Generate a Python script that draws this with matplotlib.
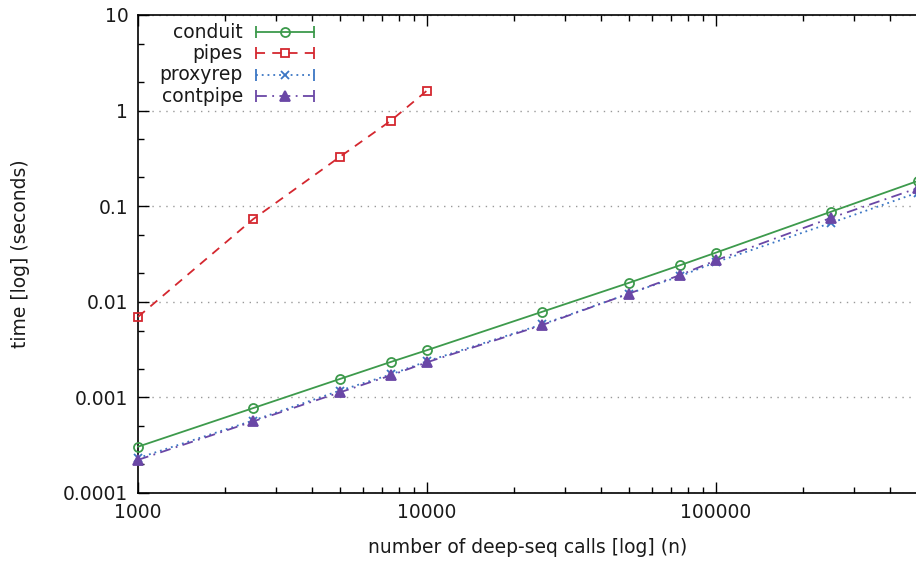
import matplotlib
matplotlib.use('Agg')
import matplotlib.pyplot as plt
import matplotlib.ticker as ticker
import numpy as np

plt.rcParams['font.family'] = 'DejaVu Sans'
plt.rcParams['font.size'] = 13.5

# deep-seq calls (n)
calls = [1000, 2500, 5000, 7500, 10000, 25000, 50000, 75000, 100000, 250000, 500000]
calls_pipes = [1000, 2500, 5000, 7500, 10000]

# times in seconds
conduit = [0.000305, 0.000772, 0.00156, 0.00235, 0.00312, 0.00785, 0.0158, 0.0241, 0.0327, 0.0875, 0.184]
pipes = [0.00695, 0.073, 0.329, 0.785, 1.62]
proxyrep = [0.000232, 0.000573, 0.00118, 0.00174, 0.00239, 0.0058, 0.0122, 0.0185, 0.026, 0.0668, 0.139]
contpipe = [0.000222, 0.00056, 0.00113, 0.0017, 0.00233, 0.0057, 0.0122, 0.019, 0.0272, 0.0755, 0.155]

series = [
    ('conduit', calls, conduit, '#3d9a4c', '-', 'o', 'none', 6.5),
    ('pipes', calls_pipes, pipes, '#d4272f', (0, (5, 4)), 's', 'none', 6),
    ('proxyrep', calls, proxyrep, '#3b76c4', (0, (1, 2.2)), 'x', None, 5.5),
    ('contpipe', calls, contpipe, '#6a47a6', (0, (6, 3, 1, 3)), '^', None, 6.5),
]

fig = plt.figure(figsize=(9.16, 5.65), dpi=100)
ax = fig.add_axes([138/916, 72/565, 780/916, 478/565])
ax.set_xscale('log')
ax.set_yscale('log')
ax.set_xlim(1000, 500000)
ax.set_ylim(0.0001, 10)

for name, xs, ys, col, ls, mk, mfc, ms in series:
    ax.plot(xs, ys, color=col, linestyle=ls, linewidth=1.3, marker=mk,
            markersize=ms, markerfacecolor=mfc if mfc else col,
            markeredgecolor=col, markeredgewidth=1.3, clip_on=False, zorder=3)

# gnuplot-like ticks
ax.yaxis.set_major_locator(ticker.LogLocator(base=10, numticks=10))
ax.yaxis.set_minor_locator(ticker.LogLocator(base=10, subs=[2, 5], numticks=10))
ax.xaxis.set_major_locator(ticker.LogLocator(base=10, numticks=10))
ax.xaxis.set_minor_locator(ticker.LogLocator(base=10, subs=np.arange(2, 10), numticks=10))
ax.yaxis.set_major_formatter(ticker.FuncFormatter(lambda v, p: ('%g' % v) if v >= 0.001 else '0.0001'))
ax.xaxis.set_major_formatter(ticker.FuncFormatter(lambda v, p: '%d' % v))
ax.yaxis.set_minor_formatter(ticker.NullFormatter())
ax.xaxis.set_minor_formatter(ticker.NullFormatter())
ax.tick_params(which='both', direction='in', top=True, right=False, labelsize=13.5, pad=7,
               labelcolor='#1a1a1a')
ax.tick_params(which='major', length=8, width=1)
ax.tick_params(which='minor', length=4, width=1)
for s in ax.spines.values():
    s.set_linewidth(1.2)

ax.yaxis.grid(True, which='major', linestyle=(0, (1, 4)), color='#999999', linewidth=1)
ax.set_axisbelow(True)

ax.set_xlabel('number of deep-seq calls [log] (n)', fontsize=13.5, labelpad=12, color='#1a1a1a')
ax.set_ylabel('time [log] (seconds)', fontsize=13.5, labelpad=24, color='#1a1a1a')

# legend drawn like gnuplot key (label, then errorline sample)
rows = [0.9644, 0.9205, 0.8745, 0.8305]
x0, x1 = 0.1513, 0.2256
for (name, xs, ys, col, ls, mk, mfc, ms), yy in zip(series, rows):
    ax.text(0.1346, yy, name, transform=ax.transAxes, ha='right', va='center',
            fontsize=13.5, color='#1a1a1a')
    ax.plot([x0, x1], [yy, yy], transform=ax.transAxes, color=col, linestyle=ls, linewidth=1.3)
    ax.plot([x0, x1], [yy, yy], transform=ax.transAxes, color=col, linestyle='none',
            marker='|', markersize=8, markeredgewidth=1.3)
    ax.plot([(x0 + x1) / 2], [yy], transform=ax.transAxes, color=col, linestyle='none',
            marker=mk, markersize=ms, markerfacecolor=mfc if mfc else col,
            markeredgecolor=col, markeredgewidth=1.3)

fig.savefig('out.png', dpi=100)
